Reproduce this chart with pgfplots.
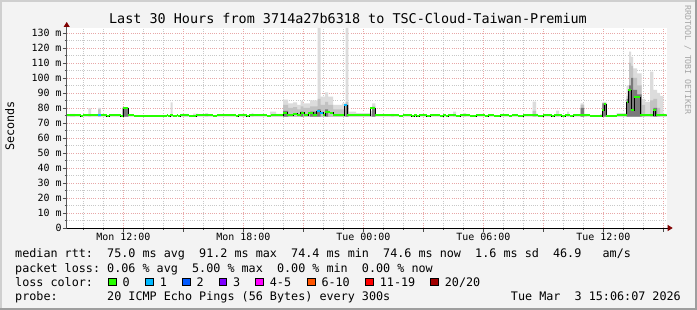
\documentclass[border=0pt]{standalone}
\usepackage{fontspec}
\usepackage{pgfplots}
\usepackage{pgfplotstable}
\pgfplotsset{compat=1.18}
\usetikzlibrary{arrows.meta}
\newfontfamily\mono{DejaVu Sans Mono}
\newcommand\lgfont{\mono\fontsize{11.8}{12}\selectfont}
\newcommand\tkfont{\mono\fontsize{10}{10}\selectfont}
\definecolor{bgc}{HTML}{F3F3F3}
\definecolor{shadeA}{HTML}{CFCFCF}
\definecolor{shadeB}{HTML}{9E9E9E}
\definecolor{mgrid}{HTML}{E8A8A8}
\definecolor{ngrid}{HTML}{C8C8C8}
\definecolor{smokeL}{HTML}{DCDCDC}
\definecolor{smokeM}{HTML}{C2C2C2}
\definecolor{smokeD}{HTML}{7A7A7A}
\definecolor{loss0}{HTML}{26FF00}
\definecolor{loss1}{HTML}{00B8FF}
\definecolor{loss2}{HTML}{0059FF}
\definecolor{loss3}{HTML}{7E00FF}
\definecolor{loss4}{HTML}{FF00FF}
\definecolor{loss6}{HTML}{FF5500}
\definecolor{loss11}{HTML}{FF0000}
\definecolor{loss20}{HTML}{A10000}
\definecolor{arrowc}{HTML}{800000}

% light smoke: step start (hours since Mon 00:00), top of range (ms)
\pgfplotstableread{
h v
9.17 74.3
9.34 76.0
9.59 74.3
10.25 79.7
10.39 74.3
10.74 80.0
10.87 74.3
11.97 80.5
12.25 74.3
14.37 83.7
14.47 74.3
14.92 76.0
15.24 74.3
15.49 76.2
15.74 74.3
16.09 76.5
16.24 74.3
17.92 76.0
18.09 74.3
18.42 76.5
18.50 74.3
19.34 77.5
19.64 76.0
19.99 85.5
20.24 83.0
20.49 83.7
20.69 82.0
20.87 84.7
21.00 83.0
21.34 85.0
21.72 133.4
21.87 87.5
22.09 90.4
22.24 87.5
22.49 82.0
22.94 83.0
23.12 133.4
23.25 77.5
23.64 76.5
24.34 78.0
24.44 83.0
24.60 74.3
25.39 76.0
25.54 74.3
28.49 77.5
28.64 74.3
28.99 76.6
29.14 74.3
32.47 84.2
32.64 76.0
32.74 74.3
33.64 78.2
33.79 74.3
34.19 77.5
34.29 74.3
34.87 83.0
35.04 76.0
35.19 74.3
35.84 76.0
35.95 84.0
36.15 74.3
36.67 76.5
37.17 95.0
37.29 117.5
37.39 114.0
37.49 106.4
37.69 103.0
37.92 86.0
38.09 84.0
38.34 104.2
38.50 92.0
38.69 90.0
38.84 88.0
39.00 76.0
39.17 74.3
}\smokeL

\pgfplotstableread{
h v
9.17 74.3
10.74 79.0
10.87 74.3
11.97 80.0
12.25 74.3
19.99 82.0
20.24 80.0
20.49 80.5
20.69 79.0
20.87 81.0
21.00 80.0
21.34 81.0
21.72 86.0
21.87 82.0
22.09 84.0
22.24 82.0
22.49 79.0
23.12 84.0
23.25 74.3
24.34 76.0
24.44 81.0
24.60 74.3
32.47 78.0
32.64 74.3
34.87 82.0
35.04 74.3
35.95 83.0
36.15 74.3
37.17 88.0
37.29 110.0
37.39 108.0
37.49 100.0
37.69 95.0
37.92 82.0
38.09 74.3
38.34 85.0
38.50 86.0
38.69 80.0
38.84 74.3
39.17 74.3
}\smokeM

\pgfplotstableread{
h v
9.17 74.3
11.97 80.0
12.25 74.3
19.99 78.0
20.24 74.3
20.87 77.5
21.00 74.3
21.34 77.5
21.72 79.0
21.87 74.3
22.09 79.0
22.24 74.3
23.12 82.0
23.25 74.3
24.44 80.0
24.60 74.3
34.87 80.0
35.04 74.3
35.95 83.0
36.15 74.3
37.17 86.0
37.29 95.0
37.39 100.0
37.49 92.0
37.69 89.0
37.92 74.3
38.50 80.0
38.69 74.3
39.17 74.3
}\smokeD

% median rtt (ms), step starts
\pgfplotstableread{
h v
9.17 75.0
9.87 74.4
9.97 75.0
11.17 74.4
11.30 75.0
11.87 74.4
12.00 79.8
12.25 75.0
12.54 74.4
14.17 75.0
14.25 74.4
14.34 75.0
14.50 74.4
14.67 75.0
14.75 74.4
14.84 75.0
15.30 74.4
15.64 75.0
16.50 74.4
16.67 75.0
17.64 74.4
17.75 75.0
18.17 74.4
18.30 75.0
19.20 74.4
19.37 75.0
19.99 76.9
20.19 75.0
20.49 76.3
20.69 75.0
20.87 76.9
21.04 75.0
21.24 76.9
21.49 75.0
21.67 78.0
21.84 76.9
21.99 75.0
22.09 77.3
22.34 76.9
22.49 75.0
23.04 82.0
23.20 75.0
24.34 79.8
24.59 75.0
25.80 74.4
25.97 75.0
26.42 74.4
26.54 75.0
26.67 74.4
26.80 75.0
27.17 74.4
27.34 75.0
27.84 74.4
28.00 75.0
28.14 74.4
28.25 75.0
28.64 74.4
28.84 75.0
29.34 74.4
29.64 75.0
30.09 74.4
30.25 75.0
30.54 74.4
30.84 75.0
31.30 74.4
31.42 75.0
31.75 74.4
32.00 75.0
32.75 74.4
33.00 75.0
33.42 74.4
33.54 75.0
33.92 74.4
34.09 75.0
34.34 74.4
34.50 75.0
35.34 74.4
35.84 74.7
35.95 78.7
36.05 82.7
36.15 74.5
36.67 75.3
37.17 84.0
37.25 92.0
37.39 78.7
37.55 87.0
37.84 75.0
38.50 78.7
38.62 75.0
39.17 75.0
}\median

\begin{document}
\begin{tikzpicture}
\fill[bgc] (0bp,0bp) rectangle (697bp,310bp);
\fill[shadeA] (0bp,0bp) rectangle (2bp,310bp);
\fill[shadeA] (0bp,308bp) rectangle (697bp,310bp);
\fill[shadeB] (695bp,0bp) rectangle (697bp,310bp);
\fill[shadeB] (0bp,0bp) rectangle (697bp,2bp);
\begin{axis}[
  at={(66.7bp,82bp)}, anchor=south west,
  scale only axis, width=600bp, height=200bp,
  xmin=9.17, xmax=39.17, ymin=0, ymax=133.33,
  axis background/.style={fill=white},
  axis x line=bottom, axis y line=left,
  x axis line style={draw=black, line width=0.8bp, -{Triangle[length=5bp,width=6bp,color=arrowc,fill=arrowc]}, shorten >=-6bp},
  y axis line style={draw=black!65, line width=0.8bp, -{Triangle[length=5bp,width=6bp,color=arrowc,fill=arrowc]}, shorten >=-6bp},
  xtick={12,15,18,21,24,27,30,33,36,39},
  xticklabels={Mon 12:00,,Mon 18:00,,Tue 00:00,,Tue 06:00,,Tue 12:00,},
  minor xtick={10,11,13,14,16,17,19,20,22,23,25,26,28,29,31,32,34,35,37,38},
  ytick={0,10,20,30,40,50,60,70,80,90,100,110,120,130},
  yticklabels={0,10 m,20 m,30 m,40 m,50 m,60 m,70 m,80 m,90 m,100 m,110 m,120 m,130 m},
  minor ytick={5,15,25,35,45,55,65,75,85,95,105,115,125},
  grid=both,
  major grid style={draw=mgrid, line width=0.6bp, dash pattern=on 1bp off 1.2bp},
  minor grid style={draw=ngrid, line width=0.6bp, dash pattern=on 1bp off 1.2bp},
  tick align=outside,
  major tick length=4bp, minor tick length=2bp,
  tick style={draw=black!70, line width=0.6bp},
  xticklabel style={font=\tkfont, anchor=north, inner sep=0pt, yshift=-1bp},
  yticklabel style={font=\tkfont, anchor=east, inner sep=0pt, xshift=-1bp},
]
\addplot[const plot, fill=smokeL, draw=none] table[x=h,y=v] {\smokeL} -- cycle;
\addplot[const plot, fill=smokeM, draw=none] table[x=h,y=v] {\smokeM} -- cycle;
\addplot[const plot, fill=smokeD, draw=none] table[x=h,y=v] {\smokeD} -- cycle;
\addplot[const plot, black, line width=0.8bp] table[x=h,y=v] {\median};
\addplot[jump mark left, loss0, line width=2bp] table[x=h,y=v] {\median};
\addplot[loss1, line width=2bp] coordinates {(10.72,75.0) (10.87,75.0)};
\addplot[loss1, line width=2bp] coordinates {(21.67,78.0) (21.84,78.0)};
\addplot[loss1, line width=2bp] coordinates {(21.84,76.9) (21.99,76.9)};
\addplot[loss1, line width=2bp] coordinates {(23.04,82.0) (23.20,82.0)};
\end{axis}
% title and labels
\node[anchor=base, inner sep=0pt, font=\mono\fontsize{13.5}{14}\selectfont] at (348bp,286bp) {Last 30 Hours from 3714a27b6318 to TSC-Cloud-Taiwan-Premium};
\node[rotate=90, anchor=base, inner sep=0pt, font=\lgfont] at (14bp,184bp) {Seconds};
\node[rotate=-90, anchor=base, inner sep=0pt, font=\mono\fontsize{8.3}{9}\selectfont, text=black!35] at (685bp,250bp) {RRDTOOL / TOBI OETIKER};
% legend
\node[anchor=base west, inner sep=0pt, font=\lgfont] at (15bp,52bp) {median rtt:~~75.0 ms avg~~91.2 ms max~~74.4 ms min~~74.6 ms now~~1.6 ms sd~~46.9~~~am/s};
\node[anchor=base west, inner sep=0pt, font=\lgfont] at (15bp,38bp) {packet loss:~0.06 \% avg~~5.00 \% max~~0.00 \% min~~0.00 \% now};
\node[anchor=base west, inner sep=0pt, font=\lgfont] at (15bp,24bp) {loss color:};
\foreach \bx/\col in {108.3/loss0, 145.7/loss1, 182.3/loss2, 219/loss3, 255.7/loss4, 307.3/loss6, 365.7/loss11, 430.7/loss20}{
  \draw[fill=\col, line width=0.8bp] (\bx bp,24.2bp) rectangle ++(7.8bp,7.8bp);
}
\node[anchor=base west, inner sep=0pt, font=\lgfont] at (122.3bp,24bp) {0};
\node[anchor=base west, inner sep=0pt, font=\lgfont] at (159.7bp,24bp) {1};
\node[anchor=base west, inner sep=0pt, font=\lgfont] at (196.3bp,24bp) {2};
\node[anchor=base west, inner sep=0pt, font=\lgfont] at (233bp,24bp) {3};
\node[anchor=base west, inner sep=0pt, font=\lgfont] at (269.7bp,24bp) {4-5};
\node[anchor=base west, inner sep=0pt, font=\lgfont] at (321.3bp,24bp) {6-10};
\node[anchor=base west, inner sep=0pt, font=\lgfont] at (379.7bp,24bp) {11-19};
\node[anchor=base west, inner sep=0pt, font=\lgfont] at (444.7bp,24bp) {20/20};
\node[anchor=base west, inner sep=0pt, font=\lgfont] at (15bp,10bp) {probe:~~~~~~~20 ICMP Echo Pings (56 Bytes) every 300s};
\node[anchor=base east, inner sep=0pt, font=\lgfont] at (681bp,10bp) {Tue Mar~~3 15:06:07 2026};
\pgfresetboundingbox
\useasboundingbox (0bp,0bp) rectangle (697bp,310bp);
\end{tikzpicture}
\end{document}
